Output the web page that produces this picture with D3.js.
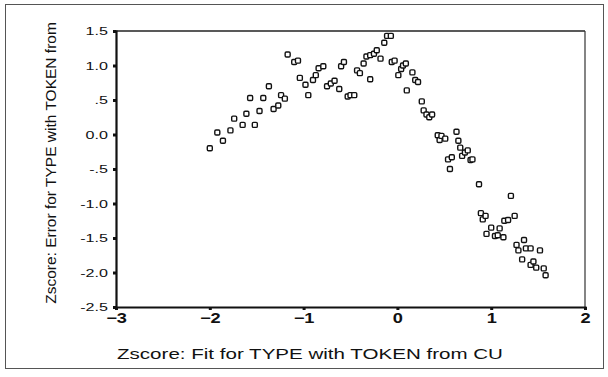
<!DOCTYPE html>
<html>
<head>
<meta charset="utf-8">
<script src="https://cdn.jsdelivr.net/npm/d3@7"></script>
<style>
  body { margin: 0; background: #fff; }
  .chart text { font-family: "Liberation Sans", Arial, sans-serif; fill: #111; }
  .axis path, .axis line { stroke: #111; }
</style>
</head>
<body>
<div id="chart" class="chart"></div>
<script>
// fitted z-scores (x) and residual z-scores (y)
const fitZ = [
  -2.00, -1.92, -1.86, -1.78, -1.74, -1.65, -1.61, -1.57, -1.52, -1.47,
  -1.43, -1.37, -1.32, -1.27, -1.24, -1.20, -1.17, -1.10, -1.06, -1.04,
  -0.98, -0.95, -0.90, -0.87, -0.84, -0.79, -0.75, -0.71, -0.67, -0.62,
  -0.60, -0.57, -0.53, -0.50, -0.46, -0.43, -0.40, -0.36, -0.29, -0.33,
  -0.29, -0.25, -0.22, -0.18, -0.14, -0.11, -0.07, -0.06, -0.03, 0.01,
  0.04, 0.06, 0.09, 0.10, 0.16, 0.19, 0.22, 0.26, 0.28, 0.31,
  0.34, 0.37, 0.43, 0.45, 0.47, 0.51, 0.54, 0.56, 0.58, 0.63,
  0.65, 0.67, 0.69, 0.72, 0.75, 0.78, 0.80, 0.87, 0.89, 0.91,
  0.94, 0.95, 1.00, 1.04, 1.09, 1.07, 1.13, 1.14, 1.18, 1.21,
  1.25, 1.27, 1.29, 1.33, 1.35, 1.37, 1.42, 1.42, 1.45, 1.48,
  1.52, 1.56, 1.58
];
const errZ = [
  -0.20, 0.03, -0.09, 0.06, 0.23, 0.14, 0.30, 0.53, 0.14, 0.34,
  0.53, 0.70, 0.37, 0.42, 0.57, 0.52, 1.16, 1.05, 1.07, 0.82,
  0.72, 0.57, 0.79, 0.86, 0.96, 0.99, 0.70, 0.74, 0.78, 0.66,
  0.99, 1.05, 0.55, 0.57, 0.57, 0.93, 0.89, 1.03, 0.80, 1.13,
  1.15, 1.17, 1.22, 1.10, 1.33, 1.43, 1.43, 1.05, 1.07, 0.86,
  0.95, 1.00, 1.03, 0.64, 0.90, 0.79, 0.76, 0.48, 0.35, 0.29,
  0.25, 0.29, -0.01, -0.08, -0.02, -0.06, -0.36, -0.50, -0.33, 0.04,
  -0.09, -0.19, -0.31, -0.26, -0.23, -0.37, -0.36, -0.72, -1.14, -1.23,
  -1.18, -1.44, -1.35, -1.47, -1.36, -1.46, -1.49, -1.25, -1.24, -0.89,
  -1.18, -1.60, -1.68, -1.81, -1.53, -1.65, -1.65, -1.89, -1.84, -1.93,
  -1.68, -1.94, -2.04
];
const xTicks = [-3, -2, -1, 0, 1, 2];
const yTicks = [1.5, 1.0, 0.5, 0.0, -0.5, -1.0, -1.5, -2.0, -2.5];
const yTickLabels = ['1.5', '1.0', '.5', '0.0', '-.5', '-1.0', '-1.5', '-2.0', '-2.5'];

const data = fitZ.map((x, i) => ({ x, y: errZ[i] }));

const W = 608, H = 377;
const margin = { top: 31, right: 23, bottom: 70, left: 116 };
const width = W - margin.left - margin.right;
const height = H - margin.top - margin.bottom;

// the scanned figure is a bit stretched sideways, so widen the text too
function stretch(sel, k) {
  sel.each(function() {
    const len = this.getComputedTextLength();
    d3.select(this)
      .attr('textLength', len * k)
      .attr('lengthAdjust', 'spacingAndGlyphs');
  });
}

const svg = d3.select('#chart')
  .append('svg')
  .attr('width', W)
  .attr('height', H);

// outer frame of the figure
svg.append('rect')
  .attr('x', 5.5).attr('y', 4.5)
  .attr('width', 598).attr('height', 364)
  .attr('fill', 'none')
  .attr('stroke', '#555')
  .attr('stroke-width', 1);

const g = svg.append('g')
  .attr('transform', `translate(${margin.left},${margin.top})`);

const x = d3.scaleLinear().domain([-3, 2]).range([0, width]);
const y = d3.scaleLinear().domain([-2.5, 1.5]).range([height, 0]);

// top / right frame
g.append('line')
  .attr('x1', 0).attr('x2', width).attr('y1', 0).attr('y2', 0)
  .attr('stroke', '#222').attr('stroke-width', 1.6);
g.append('line')
  .attr('x1', width).attr('x2', width).attr('y1', 0).attr('y2', height)
  .attr('stroke', '#333').attr('stroke-width', 1.2);

// axes
const yAxis = g.append('g')
  .attr('class', 'axis')
  .call(d3.axisLeft(y)
    .tickValues(yTicks)
    .tickFormat((d, i) => yTickLabels[i])
    .tickSize(3)
    .tickPadding(5));
yAxis.select('.domain').attr('stroke-width', 2.2);
yAxis.selectAll('.tick line').attr('stroke-width', 3);
yAxis.selectAll('text').style('font-size', '11.5px').call(stretch, 1.4);

const xAxis = g.append('g')
  .attr('class', 'axis')
  .attr('transform', `translate(0,${height})`)
  .call(d3.axisBottom(x)
    .tickValues(xTicks)
    .tickFormat(d3.format('d'))
    .tickSize(3)
    .tickPadding(3));
xAxis.select('.domain').attr('stroke-width', 2.2);
xAxis.selectAll('.tick line').attr('stroke-width', 3);
xAxis.selectAll('text')
  .style('font-size', '14px')
  .style('font-weight', 'bold')
  .call(stretch, 1.3);

// points: small hollow squarish markers
g.selectAll('.dot')
  .data(data)
  .enter().append('rect')
  .attr('class', 'dot')
  .attr('x', d => x(d.x) - 2.5)
  .attr('y', d => y(d.y) - 2.5)
  .attr('width', 5)
  .attr('height', 5)
  .attr('rx', 1.2)
  .attr('fill', '#fff')
  .attr('stroke', '#111')
  .attr('stroke-width', 1.4);

// axis titles
svg.append('text')
  .attr('x', 117)
  .attr('y', 359)
  .style('font-size', '15px')
  .text('Zscore:  Fit for TYPE with TOKEN from CU')
  .call(stretch, 1.37);

svg.append('text')
  .attr('transform', 'rotate(-90)')
  .attr('x', -163)
  .attr('y', 56)
  .style('text-anchor', 'middle')
  .style('font-size', '15.5px')
  .text('Zscore:  Error for TYPE with TOKEN from');
</script>
</body>
</html>
